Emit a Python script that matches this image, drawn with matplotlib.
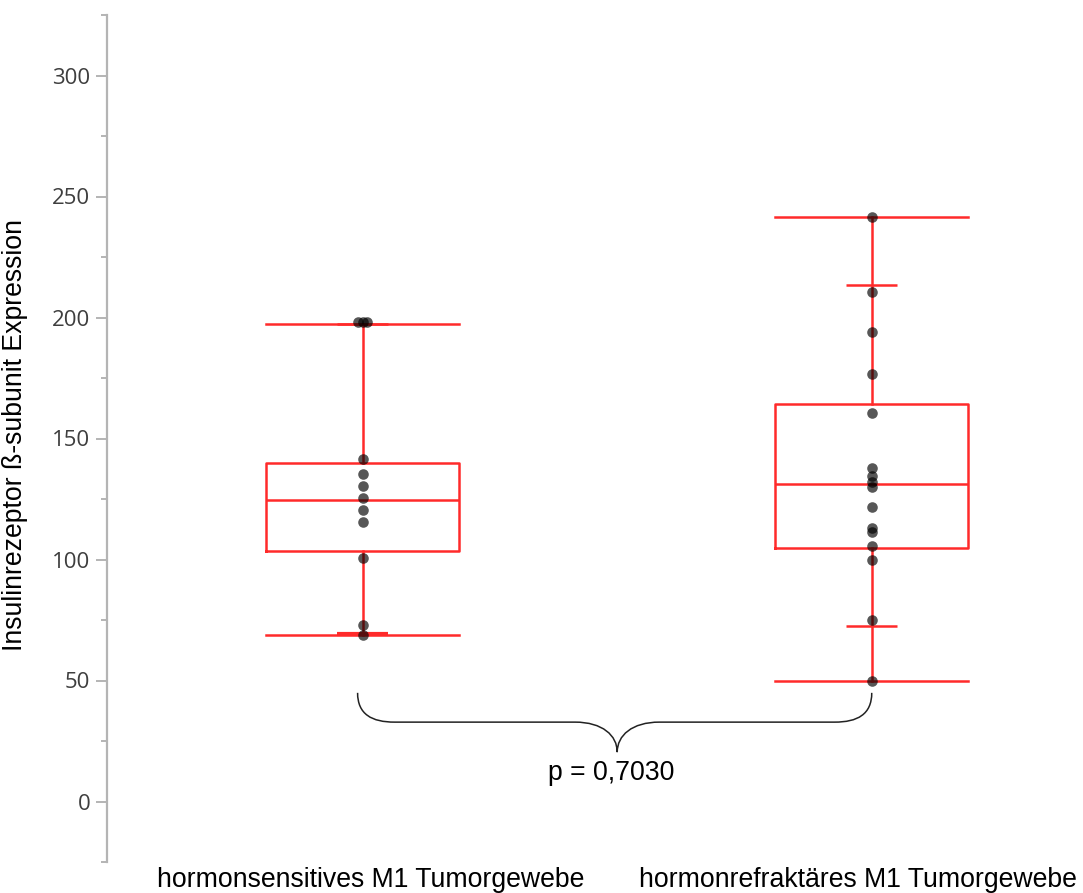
import matplotlib
matplotlib.use("Agg")
import matplotlib.pyplot as plt
from matplotlib.path import Path
from matplotlib.patches import PathPatch
import numpy as np

# Gruppen
gruppen = ["hormonsensitives M1 Tumorgewebe", "hormonrefraktäres M1 Tumorgewebe"]

# Einzelwerte je Gruppe
werte_sensitiv = [198, 198, 198, 141.5, 135.5, 130.5, 125.5, 120.5, 115.5, 100.5, 73, 69]
werte_refraktaer = [241.5, 210.5, 194, 176.5, 160.5, 138, 134.5, 132, 130,
                    121.5, 113, 111.5, 105.5, 100, 75, 50]

# Boxplot-Kennwerte (Min, Q1, Median, Q3, Max)
whisker_unten = [68.8, 49.8]
quartil_1 = [103.7, 104.9]
mediane = [124.7, 131.1]
quartil_3 = [139.8, 164.2]
whisker_oben = [197.5, 241.7]

# kurze Striche (10. / 90. Perzentil)
perz_10 = [69.3, 72.6]
perz_90 = [197.5, 213.3]

y_ticks = [0, 50, 100, 150, 200, 250, 300]

p_text = "p = 0,7030"

ROT = "#ff2a2a"
SCHRIFT = "Liberation Sans"
GROESSE = 19.2

fig = plt.figure(figsize=(10.83, 8.93), dpi=100)
ax = fig.add_axes([107 / 1083, 31 / 893, 976 / 1083, 847 / 893])

pos = [1, 2]
stats = []
for i in range(2):
    stats.append(dict(whislo=whisker_unten[i], q1=quartil_1[i], med=mediane[i],
                      q3=quartil_3[i], whishi=whisker_oben[i], label=""))

lp = dict(color=ROT, linewidth=1.8)
ax.bxp(stats, positions=pos, widths=0.38, capwidths=0.38, showfliers=False,
       boxprops=lp, whiskerprops=lp, capprops=lp, medianprops=lp)

# Perzentil-Striche
for i, p in enumerate(pos):
    ax.hlines([perz_10[i]], p - 0.05, p + 0.05, color=ROT,
              linewidth=3.0 if i == 0 else 1.8, zorder=2)
    ax.hlines([perz_90[i]], p - 0.05, p + 0.05, color=ROT, linewidth=1.8, zorder=2)

# Punkte, gleiche Werte leicht nebeneinander
for p, werte in zip(pos, [werte_sensitiv, werte_refraktaer]):
    werte = np.array(werte, dtype=float)
    xs = np.full(len(werte), float(p))
    for v in np.unique(werte):
        idx = np.where(werte == v)[0]
        if len(idx) > 1:
            xs[idx] = p + (np.arange(len(idx)) - (len(idx) - 1) / 2) * 0.009
    ax.scatter(xs, werte, s=58, color="black", alpha=0.66, linewidths=0, zorder=3)

# geschweifte Klammer
verts = [(0.99, 44.9),
         (0.99, 36.0), (1.018, 32.8), (1.063, 32.8),
         (1.417, 32.8),
         (1.471, 32.8), (1.5, 27.3), (1.5, 20.4),
         (1.5, 27.3), (1.529, 32.8), (1.583, 32.8),
         (1.927, 32.8),
         (1.972, 32.8), (2.0, 36.0), (2.0, 44.9)]
codes = [Path.MOVETO,
         Path.CURVE4, Path.CURVE4, Path.CURVE4,
         Path.LINETO,
         Path.CURVE4, Path.CURVE4, Path.CURVE4,
         Path.CURVE4, Path.CURVE4, Path.CURVE4,
         Path.LINETO,
         Path.CURVE4, Path.CURVE4, Path.CURVE4]
ax.add_patch(PathPatch(Path(verts, codes), facecolor="none", edgecolor="#222222",
                       linewidth=1.1, zorder=2))
ax.text(1.488, 8.7, p_text, ha="center", va="baseline", fontsize=GROESSE,
        family=SCHRIFT, color="black")

# Achsen
ax.set_xlim(0.4977, 2.415)
ax.set_ylim(-25, 325)
ax.set_yticks(y_ticks, [str(t) for t in y_ticks], fontsize=16, family="Open Sans",
              color="#3e3e3e")
ax.set_yticks(np.arange(-25, 326, 25), minor=True)
for s in ["top", "right", "bottom"]:
    ax.spines[s].set_visible(False)
ax.spines["left"].set_color("#b4b4b4")
ax.spines["left"].set_linewidth(1.6)
ax.tick_params(axis="y", which="major", length=8, width=1.4, color="#b4b4b4", pad=4)
ax.tick_params(axis="y", which="minor", length=4.5, width=1.4, color="#b4b4b4")
ax.set_xticks([])

# Gruppenbeschriftung
label_x = [1.016, 1.972]
for x, name in zip(label_x, gruppen):
    ax.text(x, -0.0292, name, transform=ax.get_xaxis_transform(), ha="center",
            va="baseline", fontsize=GROESSE, family=SCHRIFT, clip_on=False)

fig.text(15.5 / 1083, 1 - 435 / 893, "Insulinrezeptor ß-subunit Expression",
         rotation=90, ha="center", va="center", fontsize=GROESSE, family=SCHRIFT)

fig.savefig("out.png", dpi=100)
